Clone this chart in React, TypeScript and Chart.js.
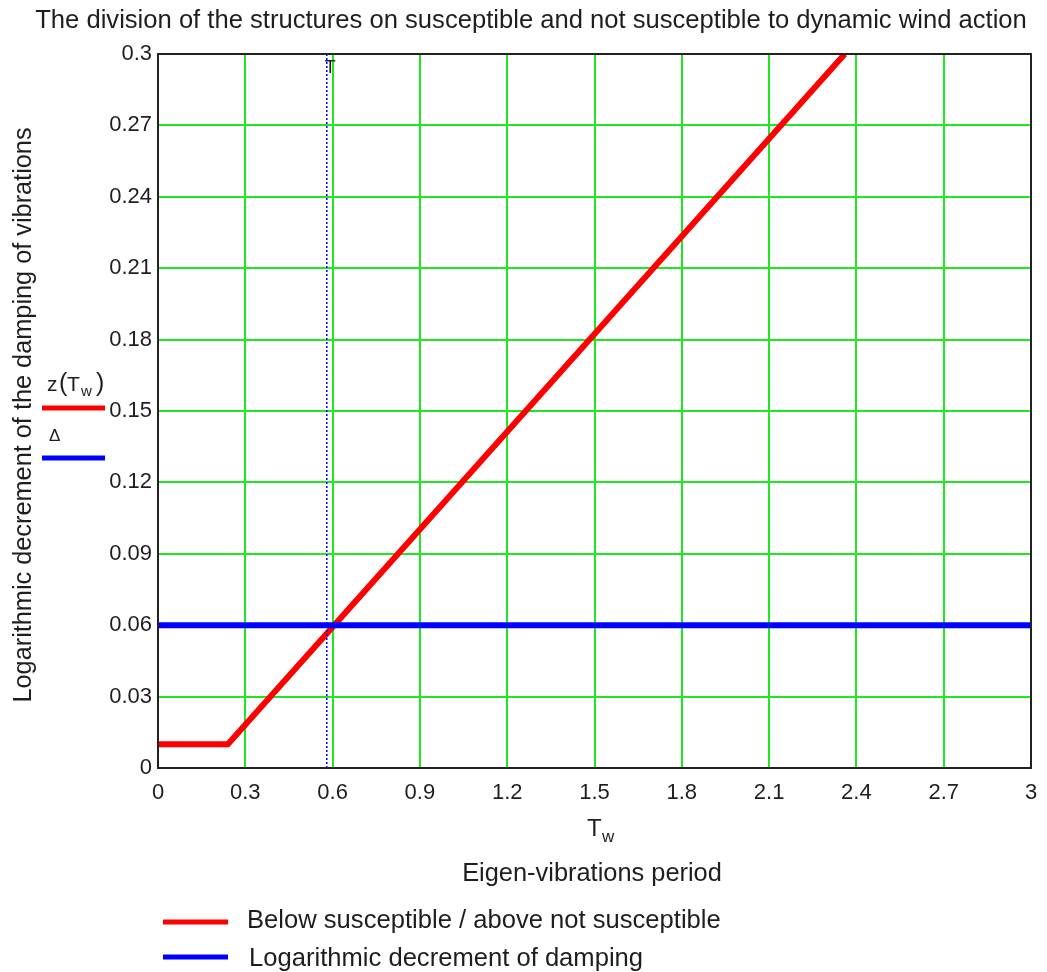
import React, { useEffect, useRef } from "react";
import { Chart, registerables } from "chart.js";

Chart.register(...registerables);

// Data
const zTw = [0, 0.24, 2.36]; // period T_w
const zValues = [0.01, 0.01, 0.3]; // z(T_w)
const deltaTw = [0, 3];
const deltaValues = [0.06, 0.06]; // Δ
const periodT = 0.58; // vertical marker T
const markerY = [0, 0.3];

const xTickLabels = ["0", "0.3", "0.6", "0.9", "1.2", "1.5", "1.8", "2.1", "2.4", "2.7", "3"];
const yTickLabels = ["0", "0.03", "0.06", "0.09", "0.12", "0.15", "0.18", "0.21", "0.24", "0.27", "0.3"];

const titleText = "The division of the structures on susceptible and not susceptible to dynamic wind action";
const yTitle = "Logarithmic decrement of the damping of vibrations";
const xTitle = "Eigen-vibrations period";
const legendRed = "Below susceptible / above not susceptible";
const legendBlue = "Logarithmic decrement of damping";

const FONT = '"Liberation Sans", Arial, sans-serif';
const TEXT = "#1e1e1e";
const RED = "#ff0000";
const BLUE = "#0000ff";
const GRID = "#1ee81e";

const extras = {
  id: "extras",
  afterDraw(chart: any) {
    const ctx = chart.ctx as CanvasRenderingContext2D;
    const a = chart.chartArea;
    ctx.save();
    // border
    ctx.strokeStyle = "#222";
    ctx.lineWidth = 2;
    ctx.strokeRect(a.left, a.top, a.right - a.left, a.bottom - a.top);

    ctx.fillStyle = TEXT;
    ctx.textBaseline = "middle";
    // title
    ctx.font = `25.6px ${FONT}`;
    ctx.textAlign = "center";
    ctx.fillText(titleText, 531, 21);

    // y title
    ctx.save();
    ctx.translate(24, 415);
    ctx.rotate(-Math.PI / 2);
    ctx.font = `25.3px ${FONT}`;
    ctx.fillText(yTitle, 0, 0);
    ctx.restore();

    // x axis: T_w
    ctx.font = `24px ${FONT}`;
    ctx.textAlign = "left";
    ctx.fillText("T", 587, 829);
    ctx.font = `17px ${FONT}`;
    ctx.fillText("w", 602, 837);
    ctx.font = `25.4px ${FONT}`;
    ctx.textAlign = "center";
    ctx.fillText(xTitle, 592, 874);

    // T label at marker
    const xs = chart.scales.x;
    const mx = xs.getPixelForValue(periodT);
    ctx.font = `18px ${FONT}`;
    ctx.textAlign = "left";
    ctx.fillText("T", mx - 2, 68);

    // left trace labels
    ctx.font = `21px ${FONT}`;
    ctx.fillText("z", 47, 385);
    ctx.font = `25px ${FONT}`;
    ctx.fillText("(", 59, 384);
    ctx.font = `21px ${FONT}`;
    ctx.fillText("T", 67, 385);
    ctx.font = `15px ${FONT}`;
    ctx.fillText("w", 81, 392);
    ctx.font = `25px ${FONT}`;
    ctx.fillText(")", 96, 384);
    ctx.font = `17px ${FONT}`;
    ctx.fillText("Δ", 49, 436);
    ctx.lineWidth = 5;
    ctx.strokeStyle = RED;
    ctx.beginPath();
    ctx.moveTo(42, 408);
    ctx.lineTo(105, 408);
    ctx.stroke();
    ctx.strokeStyle = BLUE;
    ctx.beginPath();
    ctx.moveTo(42, 458);
    ctx.lineTo(105, 458);
    ctx.stroke();

    // bottom legend
    ctx.strokeStyle = RED;
    ctx.beginPath();
    ctx.moveTo(163, 922);
    ctx.lineTo(228, 922);
    ctx.stroke();
    ctx.strokeStyle = BLUE;
    ctx.beginPath();
    ctx.moveTo(163, 957);
    ctx.lineTo(228, 957);
    ctx.stroke();
    ctx.font = `25.6px ${FONT}`;
    ctx.textAlign = "left";
    ctx.fillText(legendRed, 247, 921);
    ctx.fillText(legendBlue, 249, 959);
    ctx.restore();
  },
};

function fmt(v: number) {
  return Number(v.toFixed(2)).toString();
}

export default function App() {
  const ref = useRef<HTMLCanvasElement | null>(null);
  useEffect(() => {
    document.body.style.margin = "0";
    const canvas = ref.current;
    if (!canvas) return;
    const chart = new Chart(canvas, {
      type: "line",
      data: {
        datasets: [
          {
            label: "z(Tw)",
            data: zTw.map((x, i) => ({ x, y: zValues[i] })),
            borderColor: RED,
            borderWidth: 6,
            pointRadius: 0,
            tension: 0,
            order: 2,
          },
          {
            label: "Δ",
            data: deltaTw.map((x, i) => ({ x, y: deltaValues[i] })),
            borderColor: BLUE,
            borderWidth: 6,
            pointRadius: 0,
            order: 1,
          },
          {
            label: "T",
            data: markerY.map((y) => ({ x: periodT, y })),
            borderColor: BLUE,
            borderWidth: 1.5,
            borderDash: [2, 2],
            pointRadius: 0,
            order: 0,
          },
        ],
      },
      options: {
        responsive: false,
        animation: false,
        layout: { padding: { left: 0, top: 54, right: 16, bottom: 164 } },
        plugins: { legend: { display: false }, tooltip: { enabled: false }, title: { display: false } },
        scales: {
          x: {
            type: "linear",
            min: 0,
            max: 3,
            ticks: {
              stepSize: 0.3,
              color: TEXT,
              font: { family: FONT, size: 22 },
              padding: 12,
              maxRotation: 0,
              autoSkip: false,
              callback: (v: any) => {
                const s = fmt(Number(v));
                return xTickLabels.includes(s) ? s : "";
              },
            },
            grid: { color: GRID, lineWidth: 2, drawTicks: false },
            border: { display: false },
            afterFit: (s: any) => {
              s.height = 40;
              s.paddingLeft = 0;
              s.paddingRight = 0;
            },
          },
          y: {
            type: "linear",
            min: 0,
            max: 0.3,
            ticks: {
              stepSize: 0.03,
              color: TEXT,
              font: { family: FONT, size: 22 },
              padding: 6,
              autoSkip: false,
              callback: (v: any) => {
                const s = fmt(Number(v));
                return yTickLabels.includes(s) ? s : "";
              },
            },
            grid: { color: GRID, lineWidth: 2, drawTicks: false },
            border: { display: false },
            afterFit: (s: any) => {
              s.width = 158;
              s.paddingTop = 0;
              s.paddingBottom = 0;
            },
          },
        },
      },
      plugins: [extras],
    });
    return () => chart.destroy();
  }, []);
  return <canvas ref={ref} width={1047} height={972} style={{ display: "block" }} />;
}
